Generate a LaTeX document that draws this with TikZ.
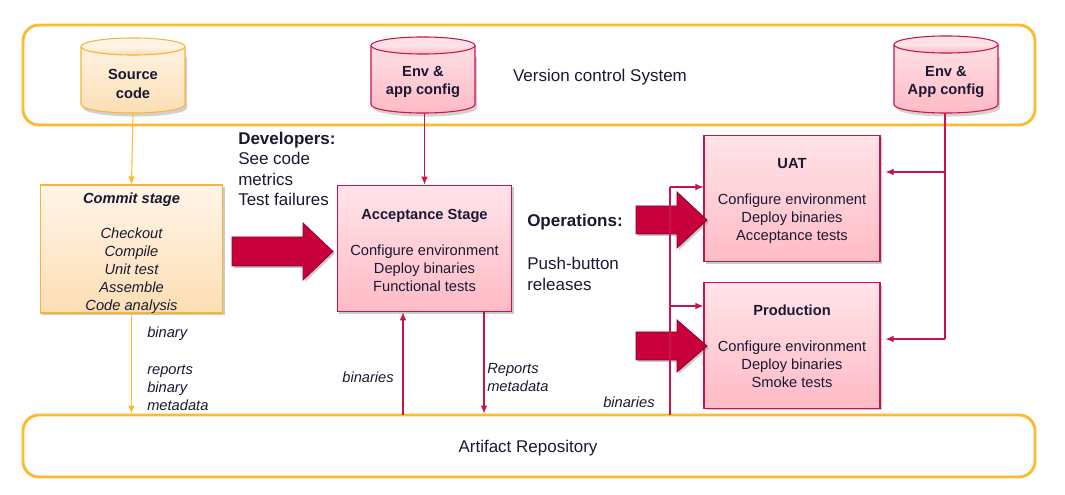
\documentclass[tikz,border=0pt]{standalone}
\usepackage{fontspec}
\setmainfont{Liberation Sans}
\usetikzlibrary{shadows,arrows.meta,calc}
\definecolor{org}{RGB}{251,186,48}
\definecolor{orgline}{RGB}{245,180,60}
\definecolor{orgT}{RGB}{255,245,232}
\definecolor{orgB}{RGB}{253,222,180}
\definecolor{crim}{RGB}{200,20,75}
\definecolor{pinkT}{RGB}{255,228,233}
\definecolor{pinkB}{RGB}{255,186,197}
\definecolor{bigred}{RGB}{200,0,60}
\definecolor{bigdark}{RGB}{140,0,40}
\definecolor{txt}{RGB}{25,25,50}
\newcommand\mycyl[4]{% center x, top line y, bottom line y, style
  \path[#4] ({#1-52},#2) -- ({#1-52},#3)
     arc[start angle=180,end angle=360,x radius=39pt,y radius=6.4pt]
     -- ({#1+52},#2)
     arc[start angle=0,end angle=180,x radius=39pt,y radius=6.4pt] -- cycle;
  \draw[#4, fill=none] ({#1-52},#2)
     arc[start angle=180,end angle=360,x radius=39pt,y radius=6.4pt];}
\tikzset{
  shd/.style={drop shadow={shadow xshift=1.5pt,shadow yshift=-1.5pt,opacity=0.35,fill=black!60}},
  repo/.style={draw=org, line width=2.2pt, rounded corners=12pt},
  cylo/.style={draw=orgline, line width=0.8pt, top color=orgT, bottom color=orgB},
  cylp/.style={draw=crim, line width=0.8pt, top color=pinkT, bottom color=pinkB},
  cylshadow/.style={fill=black!60, opacity=0.3},
  hold/.style={inner sep=0pt, minimum width=78pt, minimum height=57pt},
  cyltext/.style={align=center, font=\bfseries\fontsize{11}{14}\selectfont, inner sep=0pt},
  ostage/.style={draw=orgline, line width=0.8pt, top color=orgT, bottom color=orgB, inner sep=0pt, shd},
  pstage/.style={draw=crim, line width=0.8pt, top color=pinkT, bottom color=pinkB, inner sep=0pt, shd},
  stext/.style={align=center, inner sep=0pt},
  big/.style={fill=bigred, draw=bigdark, line width=0.6pt, shd},
  oarr/.style={draw=org, line width=0.8pt, -{Latex[length=6pt,width=5pt]}},
  parr/.style={draw=crim, line width=0.8pt, -{Latex[length=6pt,width=5pt]}},
  pline/.style={draw=crim, line width=0.8pt},
  lbl/.style={font=\itshape\fontsize{11}{13.5}\selectfont, inner sep=0pt, align=left},
  note/.style={font=\fontsize{12.75}{15.4}\selectfont, inner sep=0pt, align=left},
}
\begin{document}
\begin{tikzpicture}[x=0.75pt,y=-0.75pt, text=txt, font=\fontsize{11}{13.5}\selectfont]
\useasboundingbox (0,0) rectangle (1065,495);
% repositories
\node[repo, minimum width=759pt, minimum height=75pt] (vcs) at (529,75) {};
\node[note] (vcst) at (600,77.5) {Version control System};
\node[repo, minimum width=759pt, minimum height=46.5pt] (art) at (529,446) {};
\node[note] (artt) at (528,448.5) {Artifact Repository};
% cylinders
\fill[cylshadow] (83,57) rectangle (187,108) (135,108) ellipse[x radius=39pt, y radius=6.4pt];
\mycyl{133}{46.5}{104.5}{cylo}
\node[hold] (src) at (133,75.5) {};
\node[cyltext] (srct) at (133,84) {Source\\code};
\fill[cylshadow] (373,57) rectangle (477,108) (425,108) ellipse[x radius=39pt, y radius=6.4pt];
\mycyl{423}{45.5}{104.5}{cylp}
\node[hold] (env1) at (423,75) {};
\node[cyltext] (env1t) at (423,82) {Env \&\\app config};
\fill[cylshadow] (896,57) rectangle (1000,108) (948,108) ellipse[x radius=39pt, y radius=6.4pt];
\mycyl{946}{44.5}{104.5}{cylp}
\node[hold] (env2) at (946,74.5) {};
\node[cyltext] (env2t) at (946,82) {Env \&\\App config};
% stages
\node[ostage, minimum width=137pt, minimum height=96pt] (commit) at (131.5,249) {};
\node[stext] (committ) at (131.5,253.5)
  {\textbf{\textit{Commit stage}}\\[12.5pt]\itshape Checkout\\\itshape Compile\\\itshape Unit test\\\itshape Assemble\\\itshape Code analysis};
\node[pstage, minimum width=131pt, minimum height=95pt] (acc) at (424.5,248.5) {};
\node[stext] (acct) at (424.5,250)
  {\textbf{Acceptance Stage}\\[13.5pt]Configure environment\\Deploy binaries\\Functional tests};
\node[pstage, minimum width=132pt, minimum height=95pt] (uat) at (792,198.5) {};
\node[stext] (uatt) at (792,201)
  {\textbf{UAT}\\[13.5pt]Configure environment\\Deploy binaries\\Acceptance tests};
\node[pstage, minimum width=132pt, minimum height=94pt] (prod) at (792,345.5) {};
\node[stext] (prodt) at (792,346.5)
  {\textbf{Production}\\[13.5pt]Configure environment\\Deploy binaries\\Smoke tests};
% big arrows
\path[big] (232,237) -- (303,237) -- (303,223) -- (333,251.5) -- (303,280) -- (303,266) -- (232,266) -- cycle;
\path[big] (636,206) -- (677,206) -- (677,192) -- (707,220) -- (677,248) -- (677,234) -- (636,234) -- cycle;
\path[big] (636,332) -- (677,332) -- (677,320) -- (707,346) -- (677,372) -- (677,360) -- (636,360) -- cycle;
% notes
\node[note, anchor=west] (dev) at (238,169)
  {\textbf{Developers:}\\See code\\metrics\\Test failures};
\node[note, anchor=west] (ops) at (527,222) {\textbf{Operations:}};
\node[note, anchor=west] (push) at (527,274) {Push-button\\releases};
% commit connectors
\draw[oarr] (src.south) -- (commit.north);
\draw[oarr] (commit.south) -- (commit.south |- art.north);
\node[lbl, anchor=west] (l1) at (147,334) {binary};
\node[lbl, anchor=west] (l2) at (147,388) {reports\\binary\\metadata};
% acceptance connectors
\draw[parr] (env1.south -| acc.north) -- (acc.north);
\coordinate (a1) at (403,415);
\coordinate (a2) at (484,312);
\draw[parr] (a1) -- (a1 |- acc.south);
\draw[parr] (a2) -- (a2 |- art.north);
\node[lbl, anchor=east] (l3) at (394,377) {binaries};
\node[lbl, anchor=west] (l4) at (487,378) {Reports\\metadata};
% binaries to UAT / Production
\coordinate (b0) at (670,415);
\coordinate (b1) at (670,187);
\coordinate (b2) at (670,306);
\draw[pline] (b0) -- (b1);
\draw[parr] (b1) -- (b1 -| uat.west);
\draw[parr] (b2) -- (b2 -| prod.west);
\node[lbl, anchor=west] (l5) at (603,402) {binaries};
% env config to UAT / Production
\coordinate (c1) at (945,172);
\coordinate (c2) at (945,339);
\draw[pline] (env2.south -| c1) -- (c2);
\draw[parr] (c1) -- ($(c1 -| uat.east)+(5,0)$);
\draw[parr] (c2) -- ($(c2 -| prod.east)+(5,0)$);
\end{tikzpicture}
\end{document}
